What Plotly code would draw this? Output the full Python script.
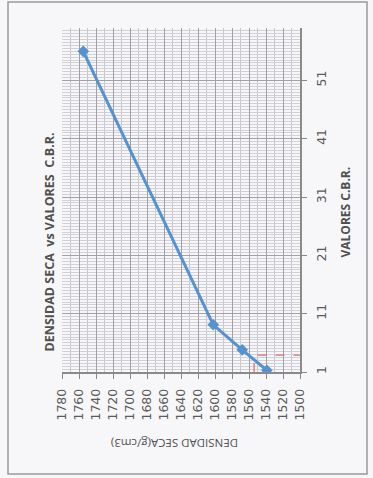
import plotly.graph_objects as go

# Dry density vs CBR value
densidad = [1755, 1602, 1568, 1539]
cbr = [56.0, 9.1, 4.8, 1.3]

# 95% reference dashed guides
dens_ref = 1554
cbr_ref = 3.9

dens_ticks = list(range(1500, 1781, 20))
cbr_ticks = [1, 11, 21, 31, 41, 51]

W, H = 373, 478
L, R, T, B = 62, 300, 28, 372


def px(x):
    return (x - L) / (R - L)


def py(y):
    return (B - y) / (B - T)


fig = go.Figure()

# reference guides
fig.add_trace(go.Scatter(
    x=[dens_ref, dens_ref], y=[1, cbr_ref - 0.9], mode="lines",
    line=dict(color="#e07070", width=1.3, dash="dash"), hoverinfo="skip"))
fig.add_trace(go.Scatter(
    x=[dens_ref - 4, 1500], y=[cbr_ref, cbr_ref], mode="lines",
    line=dict(color="#e07070", width=1.3, dash="dash"), hoverinfo="skip"))

fig.add_trace(go.Scatter(
    x=densidad, y=cbr, mode="lines+markers",
    line=dict(color="#5592d0", width=3),
    marker=dict(symbol="diamond", size=9, color="#5592d0")))

fig.update_layout(
    width=W, height=H,
    margin=dict(l=L, r=W - R, t=T, b=H - B),
    paper_bgcolor="#f7f7f9",
    plot_bgcolor="#f7f7f9",
    showlegend=False,
    font=dict(family="DejaVu Sans", color="#555555", size=12),
)

tick_font = dict(family="DejaVu Sans", size=12.5, color="#5a5a5a")

fig.update_xaxes(
    range=[1780, 1500],
    tickmode="array", tickvals=dens_ticks, ticktext=[str(v) for v in dens_ticks],
    tickangle=-90, ticks="outside", ticklen=5, tickcolor="#888888",
    ticklabelstandoff=5,
    showgrid=True, gridcolor="#a0a0a6", gridwidth=1,
    minor=dict(dtick=10, tick0=1500, showgrid=True, gridcolor="#c4c4ca", gridwidth=1),
    showline=True, linecolor="#8a8a8a", linewidth=1.5,
    zeroline=False, tickfont=tick_font,
)

fig.update_yaxes(
    range=[1, 60], side="right",
    tickmode="array", tickvals=cbr_ticks, ticktext=[str(v) for v in cbr_ticks],
    tickangle=-90, ticks="outside", ticklen=5, tickcolor="#888888",
    ticklabelstandoff=4,
    showgrid=True, gridcolor="#a0a0a6", gridwidth=1,
    minor=dict(dtick=0.5, tick0=1, showgrid=True, gridcolor="#d0d0d6", gridwidth=1),
    showline=True, linecolor="#8a8a8a", linewidth=1.5,
    zeroline=False, tickfont=tick_font,
)

# outer frame
fig.add_shape(type="rect", xref="paper", yref="paper",
              x0=px(8), x1=px(367), y0=py(474), y1=py(2),
              line=dict(color="#9a9a9a", width=1.5), fillcolor="rgba(0,0,0,0)",
              layer="below")

fig.add_annotation(text="<b>DENSIDAD SECA  vs VALORES  C.B.R.</b>",
                   xref="paper", yref="paper", x=px(38), y=py(242),
                   textangle=-90, showarrow=False,
                   font=dict(family="Open Sans", size=12.5, color="#505050"))
fig.add_annotation(text="<b>VALORES C.B.R.</b>",
                   xref="paper", yref="paper", x=px(355), y=py(212),
                   textangle=-90, showarrow=False,
                   font=dict(family="Open Sans", size=12, color="#505050"))
fig.add_annotation(text="DENSIDAD SECA(g/cm3)",
                   xref="paper", yref="paper", x=px(175), y=py(453),
                   textangle=180, showarrow=False,
                   font=dict(family="Open Sans", size=11.5, color="#505050"))

fig.write_html("out.html")
